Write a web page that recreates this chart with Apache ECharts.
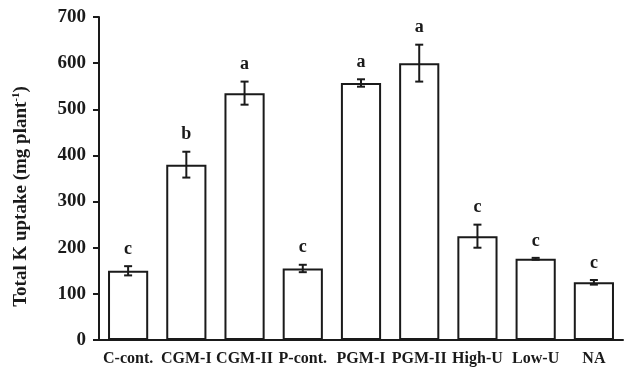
<!DOCTYPE html>
<html>
<head>
    <meta charset="utf-8">
    <title>Total K uptake</title>
    <script src="https://cdn.jsdelivr.net/npm/echarts@6/dist/echarts.min.js"></script>
    <style type="text/css">
        * { margin: 0; padding: 0; }
        body { background: #fff; }
        #main { width: 625px; height: 372px; }
    </style>
</head>
<body>
<div id="main"></div>
<script type="text/javascript">
    var categories = ['C-cont.', 'CGM-I', 'CGM-II', 'P-cont.', 'PGM-I', 'PGM-II', 'High-U', 'Low-U', 'NA'];
    var uptake = [150, 380, 535, 155, 557, 600, 225, 176, 125];
    var errors = [10, 28, 25, 8, 8, 40, 25, 2, 5];
    var letters = ['c', 'b', 'a', 'c', 'a', 'a', 'c', 'c', 'c'];

    var font = 'Liberation Serif';
    var myChart = echarts.init(document.getElementById('main'));

    // error bars + significance letters
    var errData = [];
    for (var i = 0; i < categories.length; i++) {
        errData.push([i, uptake[i] - errors[i], uptake[i] + errors[i], letters[i]]);
    }

    function renderErr(params, api) {
        var x = api.value(0);
        var lo = api.coord([x, api.value(1)]);
        var hi = api.coord([x, api.value(2)]);
        var cap = 4;
        var st = { stroke: '#1a1a1a', lineWidth: 2 };
        return {
            type: 'group',
            children: [
                { type: 'line', shape: { x1: lo[0], y1: lo[1], x2: hi[0], y2: hi[1] }, style: st },
                { type: 'line', shape: { x1: lo[0] - cap, y1: lo[1], x2: lo[0] + cap, y2: lo[1] }, style: st },
                { type: 'line', shape: { x1: hi[0] - cap, y1: hi[1], x2: hi[0] + cap, y2: hi[1] }, style: st },
                {
                    type: 'text',
                    style: {
                        x: hi[0], y: hi[1] - 17,
                        text: api.value(3),
                        fill: '#1a1a1a',
                        font: 'bold 18px "' + font + '"',
                        align: 'center', verticalAlign: 'middle'
                    }
                }
            ]
        };
    }

    var option = {
        animation: false,
        backgroundColor: '#fff',
        grid: { left: 99, right: 2, top: 17, bottom: 32, outerBoundsMode: 'none' },
        xAxis: {
            type: 'category',
            data: categories,
            axisLine: { lineStyle: { color: '#1a1a1a', width: 2 } },
            axisTick: { show: false },
            axisLabel: {
                color: '#1a1a1a', fontFamily: font, fontWeight: 'bold', fontSize: 16,
                margin: 11, interval: 0
            }
        },
        yAxis: {
            type: 'value',
            min: 0, max: 700, interval: 100,
            name: 'Total K uptake (mg plant{sup|-1})',
            nameLocation: 'middle',
            nameGap: 68,
            nameTextStyle: {
                color: '#1a1a1a', fontFamily: font, fontWeight: 'bold', fontSize: 19,
                padding: [0, 36, 0, 0],
                rich: { sup: { fontSize: 11, fontFamily: font, fontWeight: 'bold', color: '#1a1a1a', verticalAlign: 'top', padding: [0, 0, 9, 0] } }
            },
            axisLine: { show: true, lineStyle: { color: '#1a1a1a', width: 2 } },
            axisTick: { show: true, length: 6, lineStyle: { color: '#1a1a1a', width: 2 } },
            splitLine: { show: false },
            axisLabel: {
                color: '#1a1a1a', fontFamily: font, fontWeight: 'bold', fontSize: 19, margin: 13
            }
        },
        series: [{
            type: 'bar',
            data: uptake,
            barCategoryGap: '31%',
            itemStyle: { color: '#fff', borderColor: '#1a1a1a', borderWidth: 2 }
        }, {
            type: 'custom',
            renderItem: renderErr,
            data: errData,
            z: 10
        }]
    };
    myChart.setOption(option);
</script>
</body>
</html>
